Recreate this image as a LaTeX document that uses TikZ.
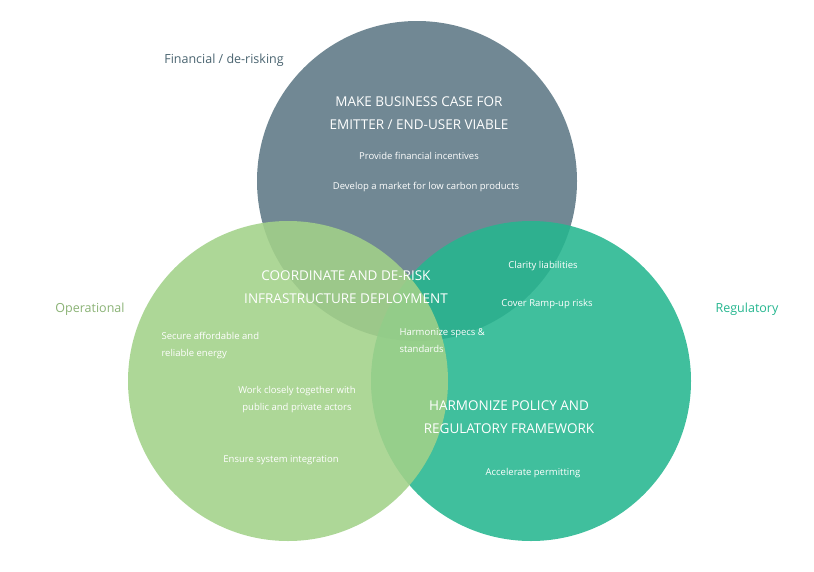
\documentclass[tikz,border=0pt]{standalone}
\usepackage{fontspec}
\setmainfont{Open Sans}
\definecolor{cTop}{HTML}{5D7885}
\definecolor{cLeft}{HTML}{A2D189}
\definecolor{cRight}{HTML}{25B68F}
\definecolor{cFin}{HTML}{4A6470}
\begin{document}
\begin{tikzpicture}[x=1pt,y=-1pt,
  circ/.style={circle,minimum size=320pt,inner sep=0pt,draw=none,fill opacity=0.88},
  ttl/.style={text=white,font=\fontsize{13.5}{23}\selectfont,align=center},
  sm/.style={text=white,font=\fontsize{9.5}{17}\selectfont,align=center},
  lab/.style={font=\fontsize{12.5}{14}\selectfont}]
\useasboundingbox (0,0) rectangle (814,571);
\node[circ,fill=cTop] (top) at (417,181) {};
\node[circ,fill=cRight] (right) at (531,381) {};
\node[circ,fill=cLeft] (left) at (288,381) {};
\node[lab,text=cFin] (lf) at (224,60) {Financial / de-risking};
\node[lab,text=cLeft!85!black] (lo) at (90,309) {Operational};
\node[lab,text=cRight] (lr) at (747,309) {Regulatory};
\node[ttl] (t1) at (419,113) {MAKE BUSINESS CASE FOR\\EMITTER / END-USER VIABLE};
\node[sm] (t2) at (419,156) {Provide financial incentives};
\node[sm] (t3) at (426,187) {Develop a market for low carbon products};
\node[ttl] (c1) at (346,287) {COORDINATE AND DE-RISK\\INFRASTRUCTURE DEPLOYMENT};
\node[sm] (r1) at (543,266) {Clarity liabilities};
\node[sm] (r2) at (547,304) {Cover Ramp-up risks};
\node[sm,align=left,anchor=west] (h1) at (396,341) {Harmonize specs \&\\standards};
\node[sm,align=left,anchor=west] (o1) at (158,345) {Secure affordable and\\reliable energy};
\node[sm] (o2) at (297,400) {Work closely together with\\public and private actors};
\node[sm] (o3) at (281,460) {Ensure system integration};
\node[ttl] (g1) at (509,417) {HARMONIZE POLICY AND\\REGULATORY FRAMEWORK};
\node[sm] (g2) at (533,473) {Accelerate permitting};
\end{tikzpicture}
\end{document}
